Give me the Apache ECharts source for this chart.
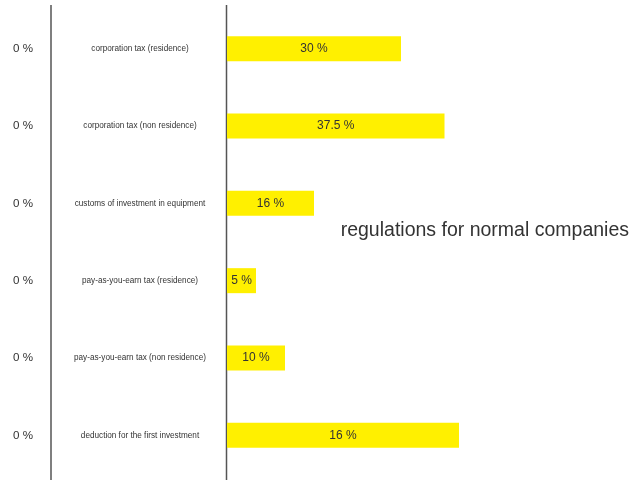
<!DOCTYPE html>
<html>
<head>
<meta charset="utf-8">
<script src="https://cdn.jsdelivr.net/npm/echarts@6/dist/echarts.min.js"></script>
<style>
html, body { margin: 0; padding: 0; background: #fff; }
#main { width: 634px; height: 480px; }
</style>
</head>
<body>
<div id="main"></div>
<script>
var categories = [
    'corporation tax (residence)',
    'corporation tax (non residence)',
    'customs of investment in equipment',
    'pay-as-you-earn tax (residence)',
    'pay-as-you-earn tax (non residence)',
    'deduction for the first investment'
];
var values = [30, 37.5, 15, 5, 10, 40];
var barLabels = ['30 %', '37.5 %', '16 %', '5 %', '10 %', '16 %'];
var leftLabels = ['0 %', '0 %', '0 %', '0 %', '0 %', '0 %'];

var font = "'Liberation Sans', Arial, sans-serif";
var chart = echarts.init(document.getElementById('main'));

var option = {
    animation: false,
    title: {
        text: 'regulations for normal companies',
        right: 0,
        top: 216,
        textStyle: { fontFamily: font, fontSize: 19.5, fontWeight: 'normal', color: '#333' }
    },
    grid: { left: 227, right: 1, top: 10, bottom: 6 },
    xAxis: { type: 'value', min: 0, max: 70, show: false },
    yAxis: [
        {
            type: 'category',
            data: categories,
            inverse: true,
            axisLine: { show: false },
            axisTick: { show: false },
            axisLabel: { margin: 87, align: 'center', fontFamily: font, fontSize: 8.2, color: '#333' }
        },
        {
            type: 'category',
            data: leftLabels,
            inverse: true,
            position: 'left',
            offset: 175,
            axisLine: { show: false },
            axisTick: { show: false },
            axisLabel: { margin: 29, align: 'center', fontFamily: font, fontSize: 11.6, color: '#333' }
        }
    ],
    graphic: [
        { type: 'line', shape: { x1: 51, y1: 5, x2: 51, y2: 480 }, style: { stroke: '#555', lineWidth: 1.5 } },
        { type: 'line', shape: { x1: 226.5, y1: 5, x2: 226.5, y2: 480 }, style: { stroke: '#555', lineWidth: 1.5 } }
    ],
    series: [
        {
            type: 'bar',
            data: values,
            barWidth: 25,
            itemStyle: { color: '#FFF000' },
            label: {
                show: true,
                position: 'inside',
                formatter: function (p) { return barLabels[p.dataIndex]; },
                fontFamily: font,
                fontSize: 12,
                color: '#333'
            }
        }
    ]
};
chart.setOption(option);
</script>
</body>
</html>
